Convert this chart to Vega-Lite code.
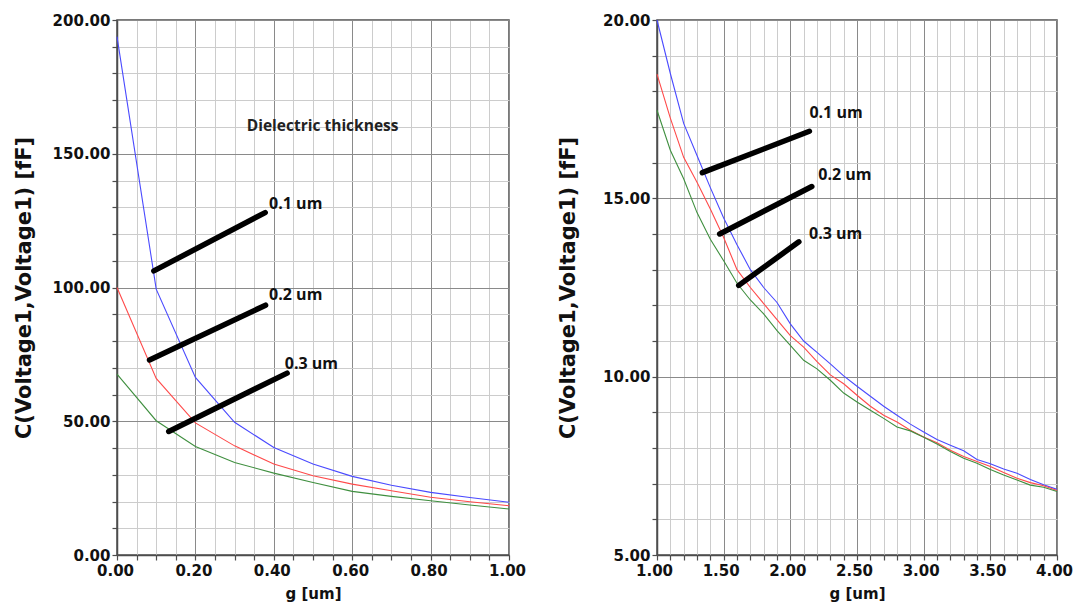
{
  "$schema": "https://vega.github.io/schema/vega-lite/v6.json",
  "padding": {"left": 12, "top": 12, "right": 5, "bottom": 0},
  "background": "white",
  "spacing": 148,
  "bounds": "flush",
  "datasets": {
    "curvesA": [
      {"g": 0.0, "C": 193.8, "t": "0.1 um"}, {"g": 0.1, "C": 99.4, "t": "0.1 um"}, {"g": 0.2, "C": 66.4, "t": "0.1 um"},
      {"g": 0.3, "C": 49.6, "t": "0.1 um"}, {"g": 0.4, "C": 40.2, "t": "0.1 um"}, {"g": 0.5, "C": 34.0, "t": "0.1 um"},
      {"g": 0.6, "C": 29.4, "t": "0.1 um"}, {"g": 0.7, "C": 26.1, "t": "0.1 um"}, {"g": 0.8, "C": 23.4, "t": "0.1 um"},
      {"g": 0.9, "C": 21.5, "t": "0.1 um"}, {"g": 1.0, "C": 19.7, "t": "0.1 um"},
      {"g": 0.0, "C": 100.0, "t": "0.2 um"}, {"g": 0.1, "C": 66.0, "t": "0.2 um"}, {"g": 0.2, "C": 49.4, "t": "0.2 um"},
      {"g": 0.3, "C": 40.8, "t": "0.2 um"}, {"g": 0.4, "C": 34.0, "t": "0.2 um"}, {"g": 0.5, "C": 29.6, "t": "0.2 um"},
      {"g": 0.6, "C": 26.5, "t": "0.2 um"}, {"g": 0.7, "C": 24.0, "t": "0.2 um"}, {"g": 0.8, "C": 21.6, "t": "0.2 um"},
      {"g": 0.9, "C": 19.9, "t": "0.2 um"}, {"g": 1.0, "C": 18.4, "t": "0.2 um"},
      {"g": 0.0, "C": 67.6, "t": "0.3 um"}, {"g": 0.1, "C": 50.2, "t": "0.3 um"}, {"g": 0.2, "C": 40.6, "t": "0.3 um"},
      {"g": 0.3, "C": 34.6, "t": "0.3 um"}, {"g": 0.4, "C": 30.6, "t": "0.3 um"}, {"g": 0.5, "C": 27.1, "t": "0.3 um"},
      {"g": 0.6, "C": 23.8, "t": "0.3 um"}, {"g": 0.7, "C": 21.9, "t": "0.3 um"}, {"g": 0.8, "C": 20.3, "t": "0.3 um"},
      {"g": 0.9, "C": 18.7, "t": "0.3 um"}, {"g": 1.0, "C": 17.2, "t": "0.3 um"}
    ],
    "curvesB": [
      {"g": 1.0, "C": 20.0, "t": "0.1 um"}, {"g": 1.1, "C": 18.5, "t": "0.1 um"}, {"g": 1.2, "C": 17.1, "t": "0.1 um"},
      {"g": 1.3, "C": 16.2, "t": "0.1 um"}, {"g": 1.4, "C": 15.3, "t": "0.1 um"}, {"g": 1.5, "C": 14.45, "t": "0.1 um"},
      {"g": 1.6, "C": 13.7, "t": "0.1 um"}, {"g": 1.7, "C": 13.0, "t": "0.1 um"}, {"g": 1.8, "C": 12.5, "t": "0.1 um"},
      {"g": 1.9, "C": 12.08, "t": "0.1 um"}, {"g": 2.0, "C": 11.48, "t": "0.1 um"}, {"g": 2.1, "C": 11.0, "t": "0.1 um"},
      {"g": 2.2, "C": 10.68, "t": "0.1 um"}, {"g": 2.3, "C": 10.36, "t": "0.1 um"}, {"g": 2.4, "C": 10.02, "t": "0.1 um"},
      {"g": 2.5, "C": 9.73, "t": "0.1 um"}, {"g": 2.6, "C": 9.45, "t": "0.1 um"}, {"g": 2.7, "C": 9.17, "t": "0.1 um"},
      {"g": 2.8, "C": 8.92, "t": "0.1 um"}, {"g": 2.9, "C": 8.67, "t": "0.1 um"}, {"g": 3.0, "C": 8.45, "t": "0.1 um"},
      {"g": 3.1, "C": 8.24, "t": "0.1 um"}, {"g": 3.2, "C": 8.08, "t": "0.1 um"}, {"g": 3.3, "C": 7.92, "t": "0.1 um"},
      {"g": 3.4, "C": 7.68, "t": "0.1 um"}, {"g": 3.5, "C": 7.56, "t": "0.1 um"}, {"g": 3.6, "C": 7.41, "t": "0.1 um"},
      {"g": 3.7, "C": 7.29, "t": "0.1 um"}, {"g": 3.8, "C": 7.12, "t": "0.1 um"}, {"g": 3.9, "C": 6.97, "t": "0.1 um"},
      {"g": 4.0, "C": 6.84, "t": "0.1 um"},
      {"g": 1.0, "C": 18.48, "t": "0.2 um"}, {"g": 1.1, "C": 17.25, "t": "0.2 um"}, {"g": 1.2, "C": 16.15, "t": "0.2 um"},
      {"g": 1.3, "C": 15.45, "t": "0.2 um"}, {"g": 1.4, "C": 14.7, "t": "0.2 um"}, {"g": 1.5, "C": 13.9, "t": "0.2 um"},
      {"g": 1.6, "C": 13.0, "t": "0.2 um"}, {"g": 1.7, "C": 12.5, "t": "0.2 um"}, {"g": 1.8, "C": 12.05, "t": "0.2 um"},
      {"g": 1.9, "C": 11.6, "t": "0.2 um"}, {"g": 2.0, "C": 11.15, "t": "0.2 um"}, {"g": 2.1, "C": 10.83, "t": "0.2 um"},
      {"g": 2.2, "C": 10.42, "t": "0.2 um"}, {"g": 2.3, "C": 10.05, "t": "0.2 um"}, {"g": 2.4, "C": 9.8, "t": "0.2 um"},
      {"g": 2.5, "C": 9.48, "t": "0.2 um"}, {"g": 2.6, "C": 9.17, "t": "0.2 um"}, {"g": 2.7, "C": 8.92, "t": "0.2 um"},
      {"g": 2.8, "C": 8.73, "t": "0.2 um"}, {"g": 2.9, "C": 8.5, "t": "0.2 um"}, {"g": 3.0, "C": 8.31, "t": "0.2 um"},
      {"g": 3.1, "C": 8.15, "t": "0.2 um"}, {"g": 3.2, "C": 7.94, "t": "0.2 um"}, {"g": 3.3, "C": 7.76, "t": "0.2 um"},
      {"g": 3.4, "C": 7.62, "t": "0.2 um"}, {"g": 3.5, "C": 7.48, "t": "0.2 um"}, {"g": 3.6, "C": 7.31, "t": "0.2 um"},
      {"g": 3.7, "C": 7.15, "t": "0.2 um"}, {"g": 3.8, "C": 7.03, "t": "0.2 um"}, {"g": 3.9, "C": 6.94, "t": "0.2 um"},
      {"g": 4.0, "C": 6.81, "t": "0.2 um"},
      {"g": 1.0, "C": 17.47, "t": "0.3 um"}, {"g": 1.1, "C": 16.35, "t": "0.3 um"}, {"g": 1.2, "C": 15.55, "t": "0.3 um"},
      {"g": 1.3, "C": 14.6, "t": "0.3 um"}, {"g": 1.4, "C": 13.85, "t": "0.3 um"}, {"g": 1.5, "C": 13.25, "t": "0.3 um"},
      {"g": 1.6, "C": 12.62, "t": "0.3 um"}, {"g": 1.7, "C": 12.15, "t": "0.3 um"}, {"g": 1.8, "C": 11.76, "t": "0.3 um"},
      {"g": 1.9, "C": 11.29, "t": "0.3 um"}, {"g": 2.0, "C": 10.88, "t": "0.3 um"}, {"g": 2.1, "C": 10.46, "t": "0.3 um"},
      {"g": 2.2, "C": 10.22, "t": "0.3 um"}, {"g": 2.3, "C": 9.9, "t": "0.3 um"}, {"g": 2.4, "C": 9.54, "t": "0.3 um"},
      {"g": 2.5, "C": 9.29, "t": "0.3 um"}, {"g": 2.6, "C": 9.06, "t": "0.3 um"}, {"g": 2.7, "C": 8.83, "t": "0.3 um"},
      {"g": 2.8, "C": 8.59, "t": "0.3 um"}, {"g": 2.9, "C": 8.48, "t": "0.3 um"}, {"g": 3.0, "C": 8.3, "t": "0.3 um"},
      {"g": 3.1, "C": 8.11, "t": "0.3 um"}, {"g": 3.2, "C": 7.9, "t": "0.3 um"}, {"g": 3.3, "C": 7.71, "t": "0.3 um"},
      {"g": 3.4, "C": 7.57, "t": "0.3 um"}, {"g": 3.5, "C": 7.4, "t": "0.3 um"}, {"g": 3.6, "C": 7.24, "t": "0.3 um"},
      {"g": 3.7, "C": 7.1, "t": "0.3 um"}, {"g": 3.8, "C": 6.96, "t": "0.3 um"}, {"g": 3.9, "C": 6.9, "t": "0.3 um"},
      {"g": 4.0, "C": 6.78, "t": "0.3 um"}
    ],
    "linksA": [
      {"g": 0.094, "C": 106.2, "g2": 0.378, "C2": 128.0},
      {"g": 0.083, "C": 72.9, "g2": 0.379, "C2": 93.4},
      {"g": 0.132, "C": 46.2, "g2": 0.434, "C2": 68.0}
    ],
    "labelsA": [
      {"g": 0.388, "C": 131.4, "label": "0.1 um"},
      {"g": 0.388, "C": 97.2, "label": "0.2 um"},
      {"g": 0.428, "C": 71.4, "label": "0.3 um"}
    ],
    "headA": [
      {"g": 0.331, "C": 160.4, "label": "Dielectric thickness"}
    ],
    "linksB": [
      {"g": 1.34, "C": 15.72, "g2": 2.143, "C2": 16.88},
      {"g": 1.47, "C": 14.0, "g2": 2.161, "C2": 15.33},
      {"g": 1.613, "C": 12.56, "g2": 2.064, "C2": 13.78}
    ],
    "labelsB": [
      {"g": 2.143, "C": 17.4, "label": "0.1 um"},
      {"g": 2.21, "C": 15.66, "label": "0.2 um"},
      {"g": 2.14, "C": 13.99, "label": "0.3 um"}
    ]
  },
  "hconcat": [
    {
      "width": 392,
      "height": 535,
      "encoding": {
        "x": {
          "field": "g", "type": "quantitative",
          "scale": {"domain": [0, 1], "nice": false, "zero": false},
          "axis": {
            "title": "g [um]",
            "values": [0, 0.05, 0.1, 0.15, 0.2, 0.25, 0.3, 0.35, 0.4, 0.45, 0.5, 0.55, 0.6, 0.65, 0.7, 0.75, 0.8, 0.85, 0.9, 0.95, 1.0],
            "labelExpr": "abs(datum.value * 5 - round(datum.value * 5)) < 1e-6 ? format(datum.value, '.2f') : ''",
            "gridColor": {"condition": {"test": "abs(datum.value * 5 - round(datum.value * 5)) < 1e-6", "value": "#8a8a8a"}, "value": "#cccccc"},
            "labelPadding": 3,
            "labelOffset": -2,
            "titlePadding": 8
          }
        },
        "y": {
          "field": "C", "type": "quantitative",
          "scale": {"domain": [0, 200], "nice": false},
          "axis": {
            "title": "C(Voltage1,Voltage1) [fF]",
            "values": [0, 10, 20, 30, 40, 50, 60, 70, 80, 90, 100, 110, 120, 130, 140, 150, 160, 170, 180, 190, 200],
            "labelExpr": "datum.value % 50 === 0 ? format(datum.value, '.2f') : ''",
            "gridColor": {"condition": {"test": "datum.value % 50 === 0", "value": "#8a8a8a"}, "value": "#cccccc"},
            "labelPadding": 2,
            "titlePadding": 18
          }
        }
      },
      "layer": [
        {
          "data": {"name": "curvesA"},
          "mark": {"type": "line", "strokeWidth": 1.1},
          "encoding": {
            "color": {
              "field": "t", "type": "nominal",
              "scale": {"domain": ["0.1 um", "0.2 um", "0.3 um"], "range": ["#4a4aff", "#ff4a4a", "#3f8f3f"]},
              "legend": null
            }
          }
        },
        {
          "data": {"name": "linksA"},
          "mark": {"type": "rule", "strokeWidth": 5.5, "strokeCap": "round", "color": "black"},
          "encoding": {
            "x2": {"field": "g2"},
            "y2": {"field": "C2"}
          }
        },
        {
          "data": {"name": "labelsA"},
          "mark": {"type": "text", "align": "left", "baseline": "middle", "font": "Open Sans", "fontWeight": "bold", "fontSize": 16, "color": "#111111"},
          "encoding": {"text": {"field": "label"}}
        },
        {
          "data": {"name": "headA"},
          "mark": {"type": "text", "align": "left", "baseline": "middle", "font": "Open Sans", "fontWeight": "bold", "fontSize": 15.5, "color": "#222222"},
          "encoding": {"text": {"field": "label"}}
        }
      ]
    },
    {
      "width": 400,
      "height": 535,
      "encoding": {
        "x": {
          "field": "g", "type": "quantitative",
          "scale": {"domain": [1, 4], "nice": false, "zero": false},
          "axis": {
            "title": "g [um]",
            "values": [1.0, 1.1, 1.2, 1.3, 1.4, 1.5, 1.6, 1.7, 1.8, 1.9, 2.0, 2.1, 2.2, 2.3, 2.4, 2.5, 2.6, 2.7, 2.8, 2.9, 3.0, 3.1, 3.2, 3.3, 3.4, 3.5, 3.6, 3.7, 3.8, 3.9, 4.0],
            "labelExpr": "abs(datum.value * 2 - round(datum.value * 2)) < 1e-6 ? format(datum.value, '.2f') : ''",
            "gridColor": {"condition": {"test": "abs(datum.value * 2 - round(datum.value * 2)) < 1e-6", "value": "#8a8a8a"}, "value": "#cccccc"},
            "labelPadding": 3,
            "labelOffset": -3,
            "titlePadding": 8
          }
        },
        "y": {
          "field": "C", "type": "quantitative",
          "scale": {"domain": [5, 20], "nice": false, "zero": false},
          "axis": {
            "title": "C(Voltage1,Voltage1) [fF]",
            "values": [5, 6, 7, 8, 9, 10, 11, 12, 13, 14, 15, 16, 17, 18, 19, 20],
            "labelExpr": "datum.value % 5 === 0 ? format(datum.value, '.2f') : ''",
            "gridColor": {"condition": {"test": "datum.value % 5 === 0", "value": "#8a8a8a"}, "value": "#cccccc"},
            "labelPadding": 2,
            "titlePadding": 24
          }
        }
      },
      "layer": [
        {
          "data": {"name": "curvesB"},
          "mark": {"type": "line", "strokeWidth": 1.1},
          "encoding": {
            "color": {
              "field": "t", "type": "nominal",
              "scale": {"domain": ["0.1 um", "0.2 um", "0.3 um"], "range": ["#4a4aff", "#ff4a4a", "#3f8f3f"]},
              "legend": null
            }
          }
        },
        {
          "data": {"name": "linksB"},
          "mark": {"type": "rule", "strokeWidth": 5.5, "strokeCap": "round", "color": "black"},
          "encoding": {
            "x2": {"field": "g2"},
            "y2": {"field": "C2"}
          }
        },
        {
          "data": {"name": "labelsB"},
          "mark": {"type": "text", "align": "left", "baseline": "middle", "font": "Open Sans", "fontWeight": "bold", "fontSize": 16, "color": "#111111"},
          "encoding": {"text": {"field": "label"}}
        }
      ]
    }
  ],
  "config": {
    "font": "DejaVu Sans",
    "view": {"stroke": "#4d4d4d", "strokeWidth": 1.5},
    "axis": {
      "labelFont": "DejaVu Sans",
      "labelFontWeight": "bold",
      "labelFontSize": 15,
      "labelColor": "#111111",
      "titleFont": "DejaVu Sans",
      "titleFontWeight": "bold",
      "titleFontSize": 15,
      "titleColor": "#111111",
      "domainColor": "#4d4d4d",
      "domainWidth": 1.5,
      "tickColor": "#4d4d4d",
      "tickSize": 5,
      "tickWidth": 1.2,
      "gridWidth": 1,
      "labelOverlap": false,
      "labelFlush": false,
      "labelBound": false
    },
    "axisY": {"titleFontSize": 21}
  }
}
